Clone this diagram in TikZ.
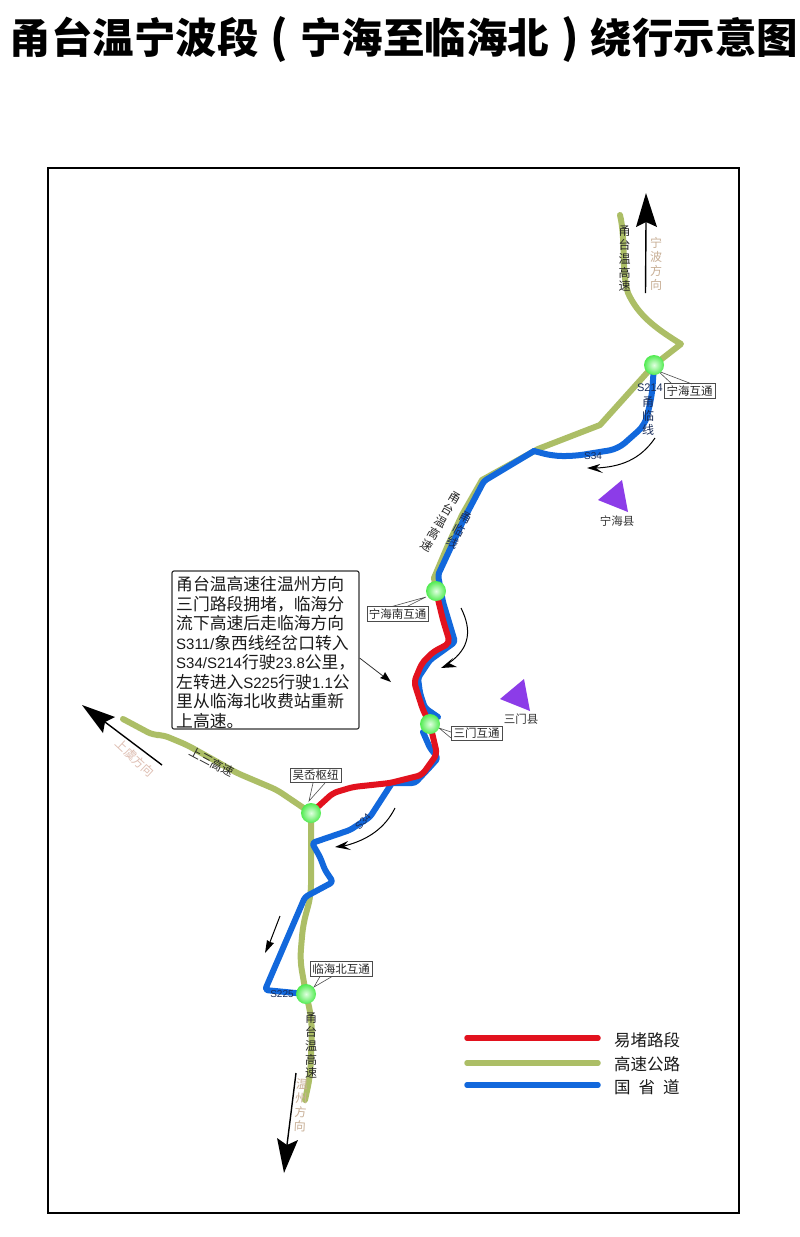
\documentclass[tikz,border=0pt]{standalone}
\usepackage{fontspec}
\setmainfont{Noto Sans CJK SC}
\newfontfamily\latn{Liberation Sans}
\definecolor{roadG}{RGB}{172,190,102}
\definecolor{roadB}{RGB}{18,104,220}
\definecolor{roadR}{RGB}{226,18,30}
\definecolor{tanT}{RGB}{200,175,150}
\definecolor{pinkT}{RGB}{222,190,178}
\definecolor{navyT}{RGB}{25,45,90}
\definecolor{purp}{RGB}{140,60,232}
\definecolor{ballO}{RGB}{80,235,80}
\definecolor{ballI}{RGB}{225,255,225}
\newcommand{\fs}[1]{\fontsize{#1}{#1}\selectfont}
\newcommand{\tp}[1]{\makebox[41.5pt][c]{\fs{44}#1}}
\tikzset{
  x=1pt,y=-1pt,
  road/.style={line width=6pt,line join=round,line cap=round},
  greenroad/.style={road,draw=roadG,rounded corners=6pt},
  blueroad/.style={road,draw=roadB,rounded corners=3pt},
  redroad/.style={road,draw=roadR,rounded corners=3pt},
  legendline/.style={line width=5.5pt,line cap=round},
  ball/.style={circle,minimum size=20pt,inner sep=0pt,inner color=ballI,outer color=ballO},
  tag/.style={draw=black!70,line width=.6pt,fill=white,inner sep=0pt,font=\fs{11.5},text=black!85,anchor=center},
  leader/.style={draw=black!70,line width=.6pt},
  thinarrow/.style={draw=black,line width=1pt},
  head/.style={fill=black},
  county/.style={fill=purp},
  plain/.style={inner sep=0pt,font=\fs{11.5},text=black!80},
  roadname/.style={inner sep=0pt,align=center,text=black!85,font=\fontsize{12}{13.8}\selectfont},
  dirname/.style={inner sep=0pt,align=center,font=\fontsize{12}{14}\selectfont},
  smalllabel/.style={inner sep=0pt,text=navyT,font=\latn\fs{10}},
  legendtext/.style={inner sep=0pt,anchor=west,font=\fs{16.5},text=black!90},
}
\begin{document}
\begin{tikzpicture}
\useasboundingbox (0,0) rectangle (800,1237);
\fill[white] (0,0) rectangle (800,1237);
\node[inner sep=0pt,font=\bfseries\fs{41.5}] (title) at (404,39.5) {甬台温宁波段\tp{(}宁海至临海北\tp{)}绕行示意图};
\draw[line width=2pt,black] (47.5,167.5) rectangle (738.5,1213);

% junction positions
\coordinate (jA) at (654,365);
\coordinate (jB) at (436,591);
\coordinate (jC) at (430,724);
\coordinate (jD) at (311,813);
\coordinate (jE) at (306,994);

% highways
\draw[road,draw=roadG] (620,215) .. controls (626,240) and (621,270) .. (628,293) .. controls (638,315) and (655,328) .. (681,344) -- (jA) -- (600,425) -- (538,449) -- (482,480) -- (462,515) -- (448,545) -- (434,578) -- (jB);
\draw[greenroad] (123,719) -- (153,735) -- (163,735) -- (187,745) -- (237,773) -- (277,790) -- (jD);
\draw[greenroad,rounded corners=10pt] (jD) -- (311,895) -- (303,925) -- (300,960) -- (jE) -- (311,1015) -- (312,1035) -- (310,1077) -- (305,1100);

% national and provincial roads
\draw[blueroad,rounded corners=9pt] (jA) -- (652,395) -- (645,425) -- (618,449) -- (575,456) -- (553,456) -- (534,451);
\draw[blueroad] (534,451) -- (484,481) -- (465,517) -- (438,575) -- (443,602) -- (455,642) -- (430,660) -- (418,678) -- (420,693) -- (425,708) -- (438,717);
\draw[blueroad] (423,732) -- (430,748) -- (438,758) -- (430,767) -- (415,783) -- (392,783);
\draw[blueroad] (392,783) -- (370,817) -- (350,830) -- (312,843) -- (320,857) -- (325,870) -- (333,882) -- (305,897) -- (265,990) -- (jE);

% congested section
\draw[redroad,rounded corners=5pt] (jB) -- (443,620) -- (450,643) -- (433,652) -- (422,663) -- (414,682) -- (423,710) -- (jC) -- (437,754) -- (422,775) -- (390,783) -- (353,787) -- (333,793) -- (jD);

% direction arrows
\draw[line width=1.4pt] (645.5,293) -- (646,222);
\fill[head] (646,193) -- (657,227) -- (646,222) -- (636,227) -- cycle;
\draw[line width=1.4pt] (162,765) -- (105,722);
\fill[head] (82,705) -- (115,717) -- (105,722) -- (103,733) -- cycle;
\draw[line width=1.4pt] (296,1073) -- (287,1145);
\fill[head] (284,1173) -- (277,1138) -- (287,1145) -- (298,1140) -- cycle;

% travel arrows
\draw[thinarrow] (655,438) .. controls (640,460) and (620,467) .. (596,468);
\fill[head] (587,468) -- (600,464) -- (596,468) -- (603,473) -- cycle;
\draw[thinarrow] (461,608) .. controls (472,630) and (470,648) .. (449,663);
\fill[head] (441,668) -- (453,658) -- (449,663) -- (457,667) -- cycle;
\draw[thinarrow] (395,808) .. controls (385,828) and (368,840) .. (344,846);
\fill[head] (335,847) -- (348,841) -- (344,846) -- (351,850) -- cycle;
\draw[thinarrow] (280,916) -- (270,942);
\fill[head] (265,953) -- (267,940) -- (270,942) -- (274,943) -- cycle;

% counties
\fill[county] (622,480) -- (598,500) -- (628,512) -- cycle;
\fill[county] (524,679) -- (500,699) -- (530,711) -- cycle;
\node[plain] (cNH) at (617,521) {宁海县};
\node[plain] (cSM) at (521,719) {三门县};

% junction tags with leaders
\node[tag,minimum width=51pt,minimum height=14.5pt] (tA) at (689.5,391) {宁海互通};
\node[tag,minimum width=61pt,minimum height=14.5pt] (tB) at (397.5,614) {宁海南互通};
\node[tag,minimum width=51pt,minimum height=14.5pt] (tC) at (476.5,733.5) {三门互通};
\node[tag,minimum width=51pt,minimum height=14.5pt] (tD) at (315.5,775.5) {吴岙枢纽};
\node[tag,minimum width=62pt,minimum height=15.5pt] (tE) at (341,969) {临海北互通};
\draw[leader] (672,384) -- (658,371) -- (692,384);
\draw[leader] (392,606.5) -- (426,597) -- (407,606.5);
\draw[leader] (451,732) -- (439,728) -- (451,738);
\draw[leader] (313,783) -- (309,801) -- (325,783);
\draw[leader] (320,976.5) -- (314,987) -- (332,976.5);

% junction balls
\node[ball] (bA) at (jA) {};
\node[ball] (bB) at (jB) {};
\node[ball] (bC) at (jC) {};
\node[ball] (bD) at (jD) {};
\node[ball] (bE) at (jE) {};

% road names
\node[roadname] (n1) at (624.5,259) {甬\\台\\温\\高\\速};
\node[dirname,text=tanT] (n2) at (656,264) {宁\\波\\方\\向};
\node[smalllabel,font=\latn\fs{11}] (n3) at (650,388) {S214};
\node[roadname,text=navyT] (n4) at (648,416) {甬\\临\\线};
\node[smalllabel] (n5) at (593,456) {S34};
\node[roadname,rotate=-30] (n6) at (441,522) {甬\\台\\温\\高\\速};
\node[roadname,rotate=-28,text=navyT] (n7) at (459,530) {甬\\临\\线};
\node[inner sep=0pt,rotate=-28,font=\fs{12},text=black!85] (n8) at (212,762) {上三高速};
\node[inner sep=0pt,rotate=-43,font=\fs{12},text=pinkT] (n9) at (135,758) {上虞方向};
\node[smalllabel,rotate=48] (n10) at (363,822) {S34};
\node[smalllabel] (n11) at (282,994) {S225};
\node[roadname] (n12) at (311,1046) {甬\\台\\温\\高\\速};
\node[dirname,text=tanT,rotate=-3] (n13) at (301,1105) {温\\州\\方\\向};

% notice
\node[draw=black!80,line width=1.2pt,rounded corners=2pt,minimum width=187pt,minimum height=158pt,inner sep=0pt] (box) at (265.5,650) {};
\node[inner sep=0pt,anchor=north west,align=left,font=\fontsize{16.8}{19.5}\selectfont,text=black!90] (boxtext) at (176,576.5) {甬台温高速往温州方向\\三门路段拥堵，临海分\\流下高速后走临海方向\\{\latn\fs{15}S311/}象西线经岔口转入\\{\latn\fs{15}S34/S214}行驶{\latn\fs{15}23.8}公里，\\左转进入{\latn\fs{15}S225}行驶{\latn\fs{15}1.1}公\\里从临海北收费站重新\\上高速。};
\coordinate (callTip) at (391,682);
\draw[line width=.8pt,black!80] (box.east |- 0,658) -- (383,676);
\fill[head] (callTip) -- (380,678) -- (383,676) -- (385,672) -- cycle;

% legend
\coordinate (l1) at (467,1038); \coordinate (l1e) at (598,1038);
\coordinate (l2) at (467,1063); \coordinate (l2e) at (598,1063);
\coordinate (l3) at (467,1085); \coordinate (l3e) at (598,1085);
\draw[legendline,roadR] (l1) -- (l1e);
\draw[legendline,roadG] (l2) -- (l2e);
\draw[legendline,roadB] (l3) -- (l3e);
\node[legendtext] (t1) at (614,1040) {易堵路段};
\node[legendtext] (t2) at (614,1064) {高速公路};
\node[legendtext] (t3) at (614,1087) {国\hspace{8pt}省\hspace{8pt}道};
\end{tikzpicture}
\end{document}
